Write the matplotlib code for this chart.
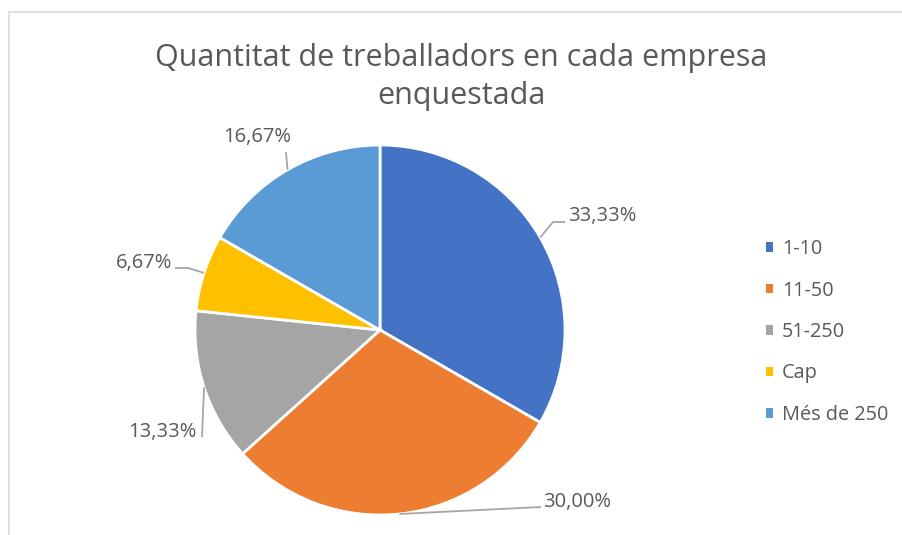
"""Pie chart: Quantitat de treballadors en cada empresa enquestada."""

import matplotlib.pyplot as plt
import numpy as np
from matplotlib.patches import Patch, Rectangle

plt.rcParams["font.family"] = ["Open Sans", "DejaVu Sans"]

categories = ["1-10", "11-50", "51-250", "Cap", "Més de 250"]
shares = [33.33, 30.00, 13.33, 6.67, 16.67]
colors = ["#4472C4", "#ED7D31", "#A5A5A5", "#FFC000", "#5B9BD5"]

TEXT = "#595959"
LEADER = "#A6A6A6"

W, H = 902, 535
fig = plt.figure(figsize=(W / 100, H / 100), dpi=100)
ax = fig.add_axes([0, 0, 1, 1])

cx, cy, r = 380, H - 330, 185
wedges, _ = ax.pie(
    shares,
    colors=colors,
    startangle=90,
    counterclock=False,
    center=(cx, cy),
    radius=r,
    wedgeprops=dict(edgecolor="white", linewidth=2),
)
ax.set_xlim(0, W)
ax.set_ylim(0, H)
ax.set_aspect("equal")
ax.axis("off")

# chart area frame (runs off the right and bottom of the crop)
ax.add_patch(Rectangle((9, -20), W + 40, H - 12 + 20, fill=False,
                       edgecolor="#D9D9D9", linewidth=1.2))

# label layout in pixel coords from the top: text anchor, ha, leader waypoints
label_layout = [
    ((568, 216), "left", [(553, 222), (565, 222)]),
    ((543, 502), "left", [(541, 507)]),
    ((197, 432), "right", [(202, 437)]),
    ((172, 263), "right", [(188, 268), (175, 268)]),
    ((257, 137), "center", [(286, 152)]),
]

for w, val, (txy, ha, pts) in zip(wedges, shares, label_layout):
    mid = np.deg2rad((w.theta1 + w.theta2) / 2)
    ex, ey = cx + r * np.cos(mid), cy + r * np.sin(mid)
    xs = [ex] + [p[0] for p in pts]
    ys = [ey] + [H - p[1] for p in pts]
    ax.plot(xs, ys, color=LEADER, linewidth=1.3, solid_capstyle="butt")
    ax.text(txy[0], H - txy[1], f"{val:.2f}%".replace(".", ","),
            ha=ha, va="center", fontsize=14.5, color=TEXT)

ax.text(461, H - 77, "Quantitat de treballadors en cada empresa\nenquestada",
        ha="center", va="center", fontsize=22, color=TEXT, linespacing=1.32)

handles = [Patch(facecolor=c, edgecolor="none") for c in colors]
leg = ax.legend(
    handles, categories,
    loc="center left",
    bbox_to_anchor=(766 / W, 1 - 332 / H),
    frameon=False,
    fontsize=14.3,
    handlelength=0.36,
    handleheight=0.36,
    handletextpad=0.45,
    labelspacing=1.08,
    borderpad=0,
    borderaxespad=0,
)
for t in leg.get_texts():
    t.set_color(TEXT)

fig.savefig("out.png", dpi=100)
